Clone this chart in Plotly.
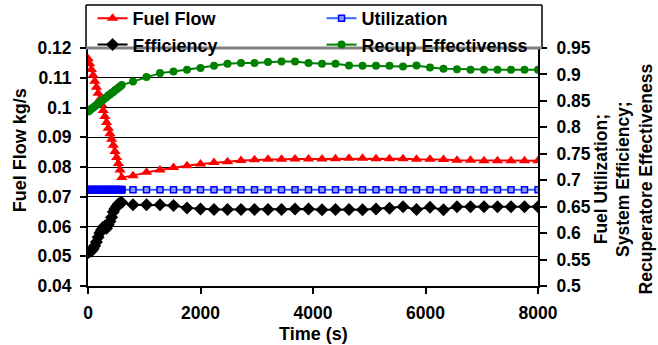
import plotly.graph_objects as go

# time stamps (s)
time_s = [0, 30, 60, 90, 120, 150, 180, 210, 240, 270, 300, 330, 360, 390, 420,
          450, 480, 510, 540, 570, 600,
          800, 1040, 1280, 1520, 1760, 2000, 2240, 2480, 2720, 2960, 3200, 3440,
          3680, 3920, 4160, 4400, 4640, 4880, 5120, 5360, 5600, 5840, 6080, 6320,
          6560, 6800, 7040, 7280, 7520, 7760, 8000]
N_DENSE = 21  # the fast-logged start-up part (0-600 s)

# Fuel flow (kg/s) - left axis
fuel_flow = [0.1165, 0.1147, 0.1128, 0.1108, 0.1088, 0.1068, 0.1048, 0.1028, 0.1010,
             0.0990, 0.0970, 0.0950, 0.0930, 0.0912, 0.0893, 0.0873, 0.0852, 0.0832,
             0.0812, 0.0790, 0.0765,
             0.0771, 0.0782, 0.0790, 0.0798, 0.0804, 0.0810, 0.0815, 0.0818, 0.0822,
             0.0824, 0.0826, 0.0826, 0.0827, 0.0827, 0.0827, 0.0828, 0.0829, 0.0829,
             0.0828, 0.0828, 0.0828, 0.0826, 0.0826, 0.0825, 0.0823, 0.0823, 0.0821,
             0.0821, 0.0821, 0.0821, 0.0821]

# Fuel utilization - right axis
utilization = [
    0.682, 0.682, 0.682, 0.682, 0.682, 0.682, 0.682, 0.682, 0.682, 0.682, 0.682,
    0.682, 0.682, 0.682, 0.682, 0.682, 0.682, 0.682, 0.682, 0.682, 0.682,
    0.682, 0.682, 0.682, 0.682, 0.682, 0.682, 0.682, 0.682, 0.682, 0.682, 0.682,
    0.682, 0.682, 0.682, 0.682, 0.682, 0.682, 0.682, 0.682, 0.682, 0.682, 0.682,
    0.682, 0.682, 0.682, 0.682, 0.682, 0.682, 0.682, 0.682, 0.682]

# System efficiency - right axis
efficiency = [0.563, 0.565, 0.566, 0.570, 0.576, 0.583, 0.592, 0.600, 0.606, 0.611,
              0.613, 0.609, 0.616, 0.622, 0.630, 0.640, 0.646, 0.651, 0.655, 0.657,
              0.658,
              0.6534, 0.6534, 0.6534, 0.652, 0.6477, 0.6458, 0.6445, 0.6445, 0.6445,
              0.6445, 0.6445, 0.6445, 0.6458, 0.6458, 0.644, 0.6445, 0.6445, 0.644,
              0.6458, 0.647, 0.650, 0.6445, 0.649, 0.644, 0.650, 0.650, 0.650, 0.650,
              0.650, 0.650, 0.650]

# Recuperator effectiveness - right axis
recup = [0.830, 0.832, 0.835, 0.837, 0.840, 0.842, 0.845, 0.847, 0.850, 0.852,
         0.855, 0.857, 0.860, 0.862, 0.865, 0.867, 0.870, 0.872, 0.875, 0.877, 0.880,
         0.8865, 0.895, 0.9025, 0.9055, 0.9087, 0.912, 0.9164, 0.920, 0.9215, 0.9215,
         0.9234, 0.9245, 0.9245, 0.9215, 0.920, 0.920, 0.917, 0.9164, 0.9164, 0.9164,
         0.915, 0.917, 0.913, 0.9107, 0.910, 0.9088, 0.9088, 0.9088, 0.9088, 0.9088,
         0.9088]

FONT = "Liberation Sans, Arial, sans-serif"
TXT = dict(family=FONT, size=18, color="black", weight="bold")
TICK = dict(family=FONT, size=17.5, color="black", weight="bold")

fig = go.Figure()
fig.add_trace(go.Scatter(
    x=time_s, y=fuel_flow, name="Fuel Flow", mode="lines+markers",
    line=dict(color="#ff0000", width=2),
    marker=dict(symbol="triangle-up", size=10, color="#ff0000"), yaxis="y"))
fig.add_trace(go.Scatter(
    x=time_s, y=utilization, name="Utilization", mode="lines+markers",
    line=dict(color="#3366ff", width=2),
    marker=dict(symbol="square", size=6, color="#8899ff",
                line=dict(color="#0000ff", width=1.5)), yaxis="y2"))
# dense start-up logging of utilization appears as a solid blue band
fig.add_trace(go.Scatter(
    x=time_s[:N_DENSE], y=utilization[:N_DENSE], name="Utilization",
    mode="markers", showlegend=False,
    marker=dict(symbol="square", size=7, color="#0000ff",
                line=dict(color="#0000ff", width=1)), yaxis="y2"))
fig.add_trace(go.Scatter(
    x=time_s, y=efficiency, name="Efficiency", mode="lines+markers",
    line=dict(color="#000000", width=2),
    marker=dict(symbol="diamond", size=10, color="#000000"), yaxis="y2"))
fig.add_trace(go.Scatter(
    x=time_s, y=recup, name="Recup Effectivenss", mode="lines+markers",
    line=dict(color="#008000", width=2),
    marker=dict(symbol="circle", size=8, color="#008000"), yaxis="y2"))

# legend frame (paper coordinates)
LX0, LX1, LY0, LY1 = -0.0044, 1.0089, 1.0, 1.1807
frame = [dict(type="line", xref="paper", yref="paper", x0=a, y0=b, x1=c, y1=d,
              line=dict(color="black", width=1.5), layer="above")
         for (a, b, c, d) in [(LX0, LY1, LX1, LY1), (LX0, LY0, LX0, LY1),
                              (LX1, LY0, LX1, LY1)]]

fig.update_layout(
    width=658, height=345,
    margin=dict(l=88, r=120, t=48, b=59, autoexpand=False),
    paper_bgcolor="white", plot_bgcolor="white",
    font=TXT,
    showlegend=True,
    xaxis=dict(range=[0, 8000], dtick=2000, showline=True, linecolor="black",
               linewidth=2, ticks="outside", ticklen=6, tickwidth=2,
               tickcolor="black", showgrid=False, zeroline=False,
               ticklabelstandoff=4, tickfont=TICK),
    yaxis=dict(range=[0.04, 0.12], dtick=0.01, showline=True, linecolor="black",
               linewidth=2, ticks="outside", ticklen=6, tickwidth=2,
               tickcolor="black", showgrid=True, gridcolor="black", gridwidth=1,
               zeroline=False, ticklabelstandoff=5, tickfont=TICK),
    yaxis2=dict(range=[0.5, 0.95], dtick=0.05, overlaying="y", side="right",
                showline=True, linecolor="black", linewidth=2, ticks="outside",
                ticklen=7, tickwidth=2, tickcolor="black", showgrid=False,
                zeroline=False, ticklabelstandoff=6, tickfont=TICK),
    legend=dict(orientation="h", x=-0.001, xanchor="left", y=1.2017, yanchor="top",
                bgcolor="rgba(0,0,0,0)", borderwidth=0,
                entrywidth=179, itemwidth=30, indentation=5,
                font=TXT, tracegroupgap=0),
    shapes=frame + [
        dict(type="line", xref="paper", yref="paper", x0=LX0, x1=LX1,
             y0=1.0, y1=1.0, line=dict(color="#808080", width=3), layer="above"),
    ],
    annotations=[
        dict(text="Time (s)", xref="paper", yref="paper", x=0.5, y=-0.2017,
             showarrow=False, xanchor="center", yanchor="middle", font=TXT),
        dict(text="Fuel Flow kg/s", xref="paper", yref="paper", x=-0.151, y=0.571,
             textangle=-90, showarrow=False, xanchor="center", yanchor="middle",
             font=TXT),
        dict(text="Fuel Utilization;<br>System Efficiency;<br>Recuperatore Effectiveness",
             xref="paper", yref="paper", x=1.19, y=0.45, textangle=-90,
             showarrow=False, xanchor="center", yanchor="middle", align="center",
             font=dict(family=FONT, size=17.5, color="black", weight="bold")),
    ],
)

fig.write_html("out.html")
